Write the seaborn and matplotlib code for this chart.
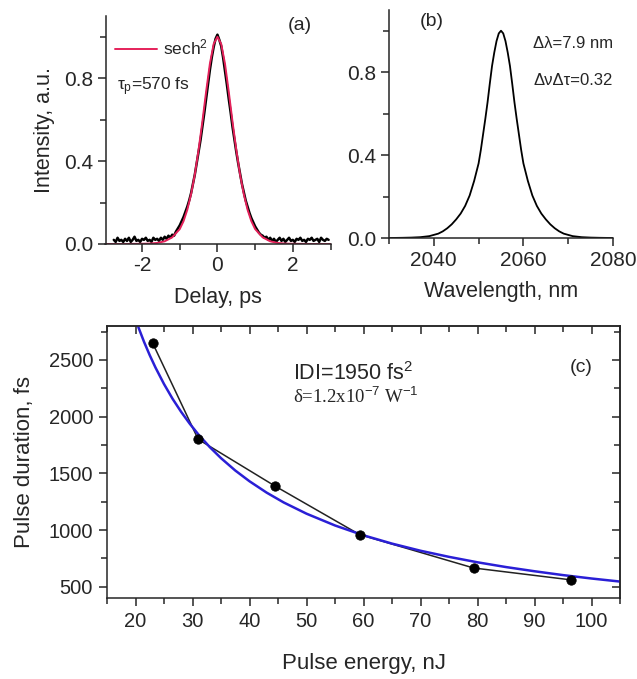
import numpy as np
import pandas as pd
import matplotlib
matplotlib.use("Agg")
import matplotlib.pyplot as plt
import seaborn as sns
from matplotlib.ticker import MultipleLocator

# ---------------- data ----------------
# (a) autocorrelation trace (measured, read off the picture, 0.05 ps steps)
delay_meas = np.round(np.linspace(-2.75, 2.95, 115), 2)
ac_meas = [
    0.02, 0.01, 0.03, 0.015, 0.02, 0.01, 0.025, 0.015, 0.03, 0.01,
    0.02, 0.035, 0.015, 0.02, 0.01, 0.025, 0.02, 0.03, 0.015, 0.02,
    0.01, 0.03, 0.02, 0.025, 0.015, 0.03, 0.02, 0.035, 0.025, 0.04,
    0.03, 0.045, 0.04,
    0.06, 0.075, 0.09, 0.11, 0.13, 0.155, 0.18, 0.21, 0.245, 0.29,
    0.335, 0.39, 0.445, 0.50, 0.565, 0.63, 0.70, 0.77, 0.84, 0.90,
    0.95, 0.99, 1.01, 0.985, 0.955, 0.90, 0.835, 0.77, 0.70, 0.635,
    0.565, 0.505, 0.445, 0.39, 0.34, 0.29, 0.25, 0.21, 0.18, 0.15,
    0.125, 0.105, 0.085, 0.07, 0.055, 0.045, 0.04, 0.03, 0.035, 0.02,
    0.03, 0.015,
    0.025, 0.01, 0.02, 0.03, 0.015, 0.025, 0.01, 0.02, 0.03, 0.015,
    0.02, 0.01, 0.025, 0.02, 0.03, 0.015, 0.02, 0.01, 0.025, 0.02,
    0.03, 0.015, 0.02, 0.025, 0.01, 0.03, 0.02, 0.015, 0.025, 0.02,
]
# (a) sech^2 fit
delay_fit = [-3.0, -2.5, -2.0, -1.8, -1.6, -1.4, -1.2, -1.0, -0.9, -0.8, -0.7,
             -0.6, -0.5, -0.4, -0.3, -0.2, -0.1, 0.0, 0.1, 0.2, 0.3, 0.4, 0.5,
             0.6, 0.7, 0.8, 0.9, 1.0, 1.2, 1.4, 1.6, 1.8, 2.0, 2.5, 3.0]
ac_fit = [0.0, 0.0, 0.001, 0.002, 0.005, 0.013, 0.032, 0.072, 0.11, 0.165, 0.24,
          0.335, 0.455, 0.59, 0.735, 0.87, 0.965, 1.0, 0.965, 0.87, 0.735, 0.59,
          0.455, 0.335, 0.24, 0.165, 0.11, 0.072, 0.032, 0.013, 0.005, 0.002,
          0.001, 0.0, 0.0]

# (b) optical spectrum
wavelength = [2030, 2033, 2035, 2037, 2039, 2041, 2042, 2043, 2044, 2045,
              2046, 2047, 2048, 2049, 2050, 2050.5, 2051, 2051.5, 2052, 2052.5,
              2053, 2053.5, 2054, 2054.5, 2055, 2055.5, 2056, 2056.5, 2057,
              2057.5, 2058, 2058.5, 2059, 2059.5, 2060, 2061, 2062, 2063, 2064,
              2065, 2066, 2067, 2068, 2069, 2071, 2073, 2075, 2077, 2080]
spectrum = [0.0, 0.001, 0.002, 0.004, 0.009, 0.021, 0.032, 0.047, 0.066, 0.09,
            0.118, 0.155, 0.205, 0.275, 0.36, 0.425, 0.50, 0.575, 0.655, 0.745,
            0.83, 0.895, 0.95, 0.987, 1.0, 0.987, 0.95, 0.895, 0.83,
            0.745, 0.655, 0.575, 0.50, 0.425, 0.36, 0.275, 0.205, 0.155, 0.118,
            0.09, 0.066, 0.047, 0.032, 0.021, 0.009, 0.004, 0.002, 0.001, 0.0]

# (c) pulse duration vs pulse energy
energy_meas = [23, 31, 44.4, 59.3, 79.3, 96.4]
duration_meas = [2650, 1800, 1390, 960, 665, 560]
energy_fit = [20.5, 21.5, 22.5, 23.5, 25, 26.5, 28, 29.5, 31, 33, 35, 37.5, 40,
              43, 46, 50, 55, 60, 65, 70, 75, 80, 85, 90, 95, 100, 105]
duration_fit = [2790, 2660, 2542, 2434, 2288, 2158, 2043, 1939, 1845, 1733,
                1634, 1525, 1430, 1330, 1243, 1144, 1040, 953, 880, 817, 763,
                715, 673, 636, 602, 572, 545]

# ---------------- style ----------------
sns.set_style("ticks")
plt.rcParams['font.family'] = ['Liberation Sans', 'DejaVu Sans']
plt.rcParams['mathtext.fontset'] = 'custom'
plt.rcParams['mathtext.rm'] = 'Liberation Sans'
plt.rcParams['mathtext.it'] = 'Liberation Sans'

W, H = 637, 679
fig = plt.figure(figsize=(W / 100, H / 100), dpi=100)


def pos(l, r, t, b):
    return [l / W, (H - b) / H, (r - l) / W, (b - t) / H]


RED = "#e5215a"
BLUE = "#2a1fd6"
LW_AX = 1.1
TICKFS = 15

axa = fig.add_axes(pos(105.5, 330.5, 16, 244))
axb = fig.add_axes(pos(389, 613, 10, 238))
axc = fig.add_axes(pos(107, 620, 326, 598))

# ---- panel (a)
sns.lineplot(x=delay_meas, y=ac_meas, ax=axa, color="black", lw=1.8,
             estimator=None, sort=False)
sns.lineplot(x=delay_fit, y=ac_fit, ax=axa, color=RED, lw=1.4,
             estimator=None, sort=False, label="sech$^2$")
axa.set_xlim(-2.97, 3.0)
axa.set_ylim(0, 1.1)
axa.set_xticks([-2, 0, 2])
axa.set_xticklabels(["-2", "0", "2"])
axa.xaxis.set_minor_locator(MultipleLocator(1))
axa.set_yticks([0, 0.4, 0.8])
axa.set_yticklabels(["0.0", "0.4", "0.8"])
axa.yaxis.set_minor_locator(MultipleLocator(0.2))
axa.set_xlabel("Delay, ps", fontsize=15.5, labelpad=8)
axa.set_ylabel("Intensity, a.u.", fontsize=15.5, labelpad=6)
leg = axa.legend(loc="center left", bbox_to_anchor=(0.042, 0.86),
                 frameon=False, fontsize=12.5, handlelength=2.4,
                 handletextpad=0.35, borderaxespad=0, borderpad=0)
axa.text(0.05, 0.69, r"$\tau_\mathrm{p}$=570 fs", transform=axa.transAxes,
         fontsize=12.5, va="center", ha="left")
axa.text(0.864, 0.96, "(a)", transform=axa.transAxes, fontsize=14,
         va="center", ha="center")

# ---- panel (b)
sns.lineplot(x=wavelength, y=spectrum, ax=axb, color="black", lw=1.3,
             estimator=None, sort=False)
axb.set_xlim(2030, 2080)
axb.set_ylim(0, 1.1)
axb.set_xticks([2040, 2060, 2080])
axb.xaxis.set_minor_locator(MultipleLocator(10))
axb.set_yticks([0, 0.4, 0.8])
axb.set_yticklabels(["0.0", "0.4", "0.8"])
axb.yaxis.set_minor_locator(MultipleLocator(0.2))
axb.set_xlabel("Wavelength, nm", fontsize=15.5, labelpad=8)
axb.set_ylabel("")
axb.text(0.19, 0.949, "(b)", transform=axb.transAxes, fontsize=14,
         va="center", ha="center")
axb.text(0.643, 0.855, "Δλ=7.9 nm", transform=axb.transAxes, fontsize=12,
         va="center", ha="left")
axb.text(0.643, 0.689, "ΔνΔτ=0.32", transform=axb.transAxes, fontsize=12,
         va="center", ha="left")

for ax in (axa, axb):
    sns.despine(ax=ax)
    for s in ("left", "bottom"):
        ax.spines[s].set_linewidth(LW_AX)
    ax.tick_params(which="major", direction="out", length=6, width=LW_AX,
                   labelsize=TICKFS, pad=3)
    ax.tick_params(which="minor", direction="out", length=4, width=LW_AX)

# ---- panel (c)
sns.lineplot(x=energy_meas, y=duration_meas, ax=axc, color="#222222", lw=1.1,
             estimator=None, sort=False)
sns.lineplot(x=energy_fit, y=duration_fit, ax=axc, color=BLUE, lw=1.8,
             estimator=None, sort=False)
sns.scatterplot(x=energy_meas, y=duration_meas, ax=axc, color="black", s=46,
                edgecolor="black", zorder=5)
axc.set_xlim(15, 105)
axc.set_ylim(400, 2800)
axc.set_xticks(list(range(20, 101, 10)))
axc.xaxis.set_minor_locator(MultipleLocator(5))
axc.set_yticks([500, 1000, 1500, 2000, 2500])
axc.yaxis.set_minor_locator(MultipleLocator(250))
axc.set_xlabel("Pulse energy, nJ", fontsize=16, labelpad=16)
axc.set_ylabel("Pulse duration, fs", fontsize=16, labelpad=10)
for s in axc.spines.values():
    s.set_linewidth(LW_AX)
axc.tick_params(which="major", direction="out", length=6, width=LW_AX,
                labelsize=14.5, pad=4)
axc.tick_params(which="minor", direction="out", length=4, width=LW_AX)
# mirrored inward ticks on top / right
top = axc.secondary_xaxis("top")
top.set_xticks(list(range(20, 101, 10)))
top.xaxis.set_minor_locator(MultipleLocator(5))
top.tick_params(which="major", direction="in", length=6, width=LW_AX,
                labeltop=False)
top.tick_params(which="minor", direction="in", length=4, width=LW_AX)
right = axc.secondary_yaxis("right")
right.set_yticks([500, 1000, 1500, 2000, 2500])
right.yaxis.set_minor_locator(MultipleLocator(250))
right.tick_params(which="major", direction="in", length=6, width=LW_AX,
                  labelright=False)
right.tick_params(which="minor", direction="in", length=4, width=LW_AX)
for sec in (top, right):
    for s in sec.spines.values():
        s.set_linewidth(LW_AX)

axc.text(0.3626, 0.824, "IDI=1950 fs$^2$", transform=axc.transAxes,
         fontsize=15.5, va="center", ha="left")
axc.text(0.3626, 0.739, "δ=1.2x10$^{-7}$ W$^{-1}$", transform=axc.transAxes,
         fontsize=13.5, va="center", ha="left", family="Liberation Serif")
axc.text(0.924, 0.846, "(c)", transform=axc.transAxes, fontsize=14,
         va="center", ha="center")

fig.savefig("out.png", dpi=100)
